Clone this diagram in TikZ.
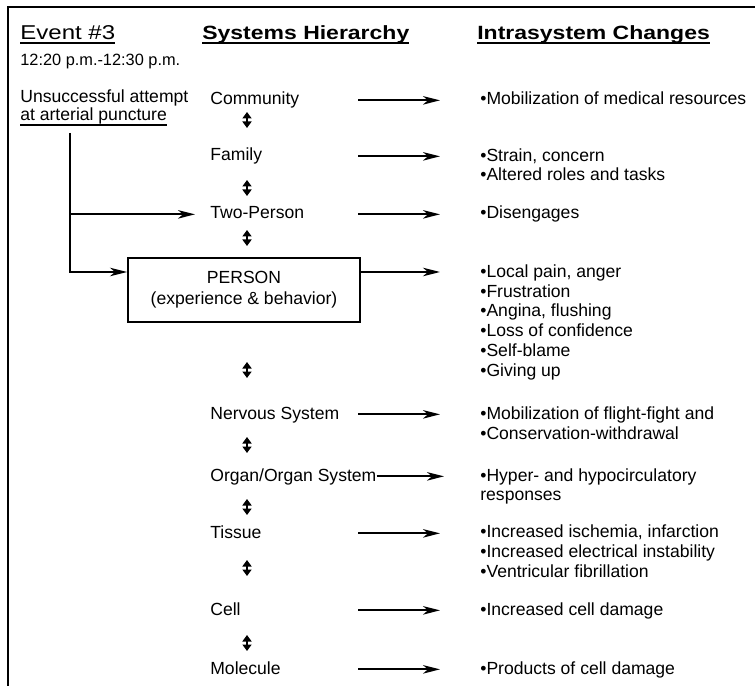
\documentclass[tikz,border=0pt]{standalone}
\usepackage{fontspec}
\setmainfont{Liberation Sans}
\newfontfamily\headfont[FakeStretch=1.2]{Liberation Sans}
\usetikzlibrary{arrows.meta}
\newsavebox\ulsave
\newcommand{\ulbox}[1]{\sbox\ulsave{#1}\usebox\ulsave\kern-\wd\ulsave\vrule width\wd\ulsave height -1.5pt depth 2.6pt\relax}

\begin{document}
\begin{tikzpicture}[
    txt/.style={
        inner sep=0pt,
        anchor=base west,
        font=\fontsize{10pt}{11.2pt}\selectfont
    },
    head/.style={
        txt,
        font=\headfont\bfseries\fontsize{10.9pt}{13pt}\selectfont
    },
    list/.style={
        txt,
        align=left
    },
    box/.style={
        draw,
        line width=1.1pt,
        minimum width=4.64cm,
        minimum height=1.28cm,
        align=center,
        font=\fontsize{10pt}{11.9pt}\selectfont
    },
    arr/.style={
        -{Stealth[length=3.4mm,width=1.7mm,inset=1mm]},
        line width=1.1pt
    },
    updown/.style={
        {Triangle[length=1.3mm,width=1.8mm]}-{Triangle[length=1.3mm,width=1.8mm]},
        line width=1.2pt
    },
    frame/.style={
        line width=1.4pt
    }
]

% ---------------- Frame ----------------
\useasboundingbox (0,0) rectangle (15.1,-13.72);
\draw[frame] (15.1,-0.14) -- (0.16,-0.14) -- (0.16,-13.72);

% ---------------- Headings ----------------
% (multi-line nodes sit on the baseline of their last line)
\node[txt, font=\headfont\fontsize{11.4pt}{13pt}\selectfont] (event) at (0.4,-0.79) {\ulbox{Event \#3}};
\node[head] (hier) at (4.04,-0.79) {\ulbox{Systems Hierarchy}};
\node[head] (intra) at (9.54,-0.79) {\ulbox{Intrasystem Changes}};
\node[txt, font=\fontsize{9.3pt}{11pt}\selectfont] (time) at (0.4,-1.32) {12:20 p.m.-12:30 p.m.};

\node[list, font=\fontsize{10pt}{9.2pt}\selectfont] (trig) at (0.4,-2.42)
    {Unsuccessful attempt\\\ulbox{at arterial puncture}};

% ---------------- Systems hierarchy ----------------
\node[txt] (comm) at (4.2,-2.1) {Community};
\node[txt] (fam) at (4.2,-3.22) {Family};
\node[txt] (two) at (4.2,-4.38) {Two-Person};
\node[box] (person) at (4.88,-5.8) {PERSON\\(experience \& behavior)};
\node[txt] (nerv) at (4.2,-8.38) {Nervous System};
\node[txt] (organ) at (4.2,-9.62) {Organ/Organ System};
\node[txt] (tiss) at (4.2,-10.76) {Tissue};
\node[txt] (cell) at (4.2,-12.3) {Cell};
\node[txt] (mol) at (4.2,-13.48) {Molecule};

\foreach \n/\y in {1/2.4, 2/3.76, 3/4.76, 4/7.4, 5/8.9, 6/10.14, 7/11.36, 8/12.86} {
    \coordinate (up\n) at (4.94,-\y+0.16);
    \coordinate (dn\n) at (4.94,-\y-0.16);
    \draw[updown] (up\n) -- (dn\n);
}

% ---------------- Intrasystem changes ----------------
\node[list] (ch1) at (9.6,-2.1) {•Mobilization of medical resources};
\node[list, font=\fontsize{10pt}{11.3pt}\selectfont] (ch2) at (9.6,-3.62) {•Strain, concern\\•Altered roles and tasks};
\node[list] (ch3) at (9.6,-4.38) {•Disengages};
\node[list] (ch4) at (9.6,-7.52) {•Local pain, anger\\•Frustration\\•Angina, flushing\\•Loss of confidence\\•Self-blame\\•Giving up};
\node[list] (ch5) at (9.6,-8.78) {•Mobilization of flight-fight and\\•Conservation-withdrawal};
\node[list, font=\fontsize{10pt}{10.8pt}\selectfont] (ch6) at (9.6,-10.0) {•Hyper- and hypocirculatory\\responses};
\node[list] (ch7) at (9.6,-11.54) {•Increased ischemia, infarction\\•Increased electrical instability\\•Ventricular fibrillation};
\node[list] (ch8) at (9.6,-12.3) {•Increased cell damage};
\node[list] (ch9) at (9.6,-13.48) {•Products of cell damage};

% ---------------- Arrows ----------------
\coordinate (astart) at (7.16,0);
\coordinate (aend) at (8.8,0);
\coordinate (aend2) at (8.88,0);
\foreach \lvl in {comm,fam,two,nerv,tiss,cell,mol}
    \draw[arr] (astart |- \lvl.mid) -- (aend |- \lvl.mid);
\draw[arr] (organ.mid east) -- (aend2 |- organ.mid);
\draw[arr] ([yshift=0.36cm]person.east) -- ([yshift=0.36cm]person.east -| aend);

\coordinate (trunk) at (1.4,-2.66);
\draw[arr] (trunk) |- ([yshift=0.36cm]person.west);
\draw[arr] (trunk |- two.mid) -- ([xshift=-0.3cm]two.mid west);

\end{tikzpicture}
\end{document}
